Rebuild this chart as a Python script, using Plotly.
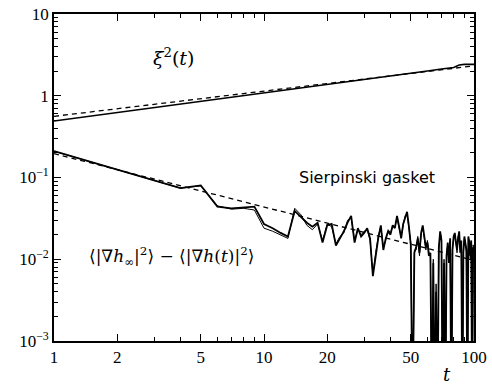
import plotly.graph_objects as go

# ---- data ----
t_xi = [1, 2, 3, 4, 5, 6, 7, 8, 10, 12, 15, 20, 25, 30, 40, 50, 60, 70, 80, 85, 90, 100]
xi_sq = [0.49, 0.62, 0.72, 0.79, 0.85, 0.91, 0.96, 1.00, 1.08, 1.15, 1.25, 1.38, 1.49,
         1.58, 1.75, 1.89, 2.01, 2.12, 2.22, 2.38, 2.42, 2.42]
t_xi_fit = [1, 100]
xi_fit = [0.56, 2.32]

t_grad = list(range(1, 101))
grad_a = [0.21, 0.125, 0.092, 0.074, 0.080, 0.044, 0.042, 0.043, 0.044, 0.027,
          0.024, 0.021, 0.019, 0.039, 0.033, 0.028, 0.025, 0.028, 0.016, 0.026,
          0.027, 0.0147, 0.018, 0.022, 0.028, 0.034, 0.016, 0.024, 0.019, 0.021,
          0.024, 0.018, 0.0062, 0.011, 0.018, 0.026, 0.013, 0.018, 0.022, 0.020,
          0.026, 0.024, 0.034, 0.025, 0.018, 0.027, 0.033, 0.038, 0.025, 0.015,
          0.0001, 0.012, 0.014, 0.018, 0.012, 0.021, 0.026, 0.018, 0.014, 0.016,
          0.011, 0.012, 0.0001, 0.009, 0.0001, 0.004, 0.0001, 0.014, 0.022, 0.017,
          0.0001, 0.009, 0.0001, 0.011, 0.016, 0.009, 0.018, 0.0001, 0.013, 0.019,
          0.021, 0.016, 0.013, 0.018, 0.022, 0.012, 0.017, 0.0001, 0.012, 0.019,
          0.015, 0.013, 0.0001, 0.019, 0.016, 0.011, 0.017, 0.0001, 0.014, 0.012]
grad_b = [0.21, 0.125, 0.092, 0.074, 0.079, 0.045, 0.041, 0.042, 0.040, 0.024,
          0.022, 0.020, 0.018, 0.042, 0.035, 0.026, 0.023, 0.027, 0.017, 0.027,
          0.025, 0.0155, 0.019, 0.021, 0.030, 0.032, 0.017, 0.023, 0.020, 0.022,
          0.023, 0.017, 0.0065, 0.012, 0.019, 0.025, 0.014, 0.017, 0.023, 0.021,
          0.025, 0.025, 0.032, 0.024, 0.019, 0.026, 0.034, 0.036, 0.024, 0.016,
          0.0001, 0.013, 0.013, 0.019, 0.011, 0.020, 0.025, 0.019, 0.013, 0.017,
          0.012, 0.011, 0.0001, 0.010, 0.0001, 0.005, 0.0001, 0.013, 0.021, 0.018,
          0.0001, 0.010, 0.0001, 0.012, 0.015, 0.010, 0.017, 0.0001, 0.014, 0.018,
          0.020, 0.017, 0.012, 0.019, 0.021, 0.013, 0.016, 0.0001, 0.013, 0.018,
          0.016, 0.012, 0.0001, 0.018, 0.017, 0.010, 0.016, 0.0001, 0.015, 0.013]
t_grad_fit = [1, 100]
grad_fit = [0.196, 0.0097]

x_tickvals = [1, 2, 5, 10, 20, 50, 100]
x_ticktext = ["1", "2", "5", "10", "20", "50", "100"]
x_minor = [3, 4, 6, 7, 8, 9, 30, 40, 60, 70, 80, 90]
y_tickvals = [0.001, 0.01, 0.1, 1, 10]
y_ticktext = ["10<sup>−3</sup>", "10<sup>−2</sup>", "10<sup>−1</sup>", "1", "10"]
y_minor = [m * 10.0 ** e for e in (-3, -2, -1, 0) for m in range(2, 10)]

fig = go.Figure()
fig.add_trace(go.Scatter(x=t_xi, y=xi_sq, mode="lines", line=dict(color="black", width=1.6)))
fig.add_trace(go.Scatter(x=t_xi_fit, y=xi_fit, mode="lines",
                         line=dict(color="black", width=1.3, dash="5px,4px")))
fig.add_trace(go.Scatter(x=t_grad, y=grad_b, mode="lines", line=dict(color="black", width=1)))
fig.add_trace(go.Scatter(x=t_grad, y=grad_a, mode="lines", line=dict(color="black", width=1.8)))
fig.add_trace(go.Scatter(x=t_grad_fit, y=grad_fit, mode="lines",
                         line=dict(color="black", width=1.3, dash="5px,4px")))

serif = "DejaVu Serif"
tickserif = "Liberation Serif"
axis_common = dict(showline=True, linecolor="black", linewidth=1.6, mirror="ticks",
                   ticks="inside", ticklen=7, tickwidth=1, tickcolor="black",
                   showgrid=False, zeroline=False, ticklabeloverflow="allow",
                   tickfont=dict(family=tickserif, size=17, color="black"))
fig.update_xaxes(type="log", range=[0, 2], tickmode="array", tickvals=x_tickvals,
                 ticktext=x_ticktext,
                 minor=dict(tickmode="array", tickvals=x_minor, ticks="inside", ticklen=4,
                            tickcolor="black", showgrid=False), **axis_common)
fig.update_yaxes(type="log", range=[-3, 1], tickmode="array", tickvals=y_tickvals,
                 ticktext=y_ticktext,
                 minor=dict(tickmode="array", tickvals=y_minor, ticks="inside", ticklen=4,
                            tickcolor="black", showgrid=False), **axis_common)

fig.add_annotation(x=0.568, y=0.47, xref="x", yref="y", text="<i>ξ</i><sup>2</sup>(<i>t</i>)",
                   showarrow=False, font=dict(family=serif, size=19, color="black"))
fig.add_annotation(x=1.49, y=-1.0, xref="x", yref="y", text="Sierpinski gasket",
                   showarrow=False, font=dict(family="DejaVu Sans", size=16, color="black"))
fig.add_annotation(x=0.56, y=-1.97, xref="x", yref="y",
                   text="⟨|∇<i>h</i><sub>∞</sub>|<sup>2</sup>⟩ − ⟨|∇<i>h</i>(<i>t</i>)|<sup>2</sup>⟩",
                   showarrow=False, font=dict(family=serif, size=17, color="black"))
fig.add_annotation(x=(453 - 54) / 426, y=-(375 - 341) / 336, xref="paper", yref="paper",
                   xanchor="center", yanchor="middle", text="<i>t</i>",
                   showarrow=False, font=dict(family=serif, size=18, color="black"))

fig.update_layout(width=492, height=387, margin=dict(l=54, r=12, t=5, b=46),
                  paper_bgcolor="white", plot_bgcolor="white", showlegend=False)
fig.write_html("out.html")
